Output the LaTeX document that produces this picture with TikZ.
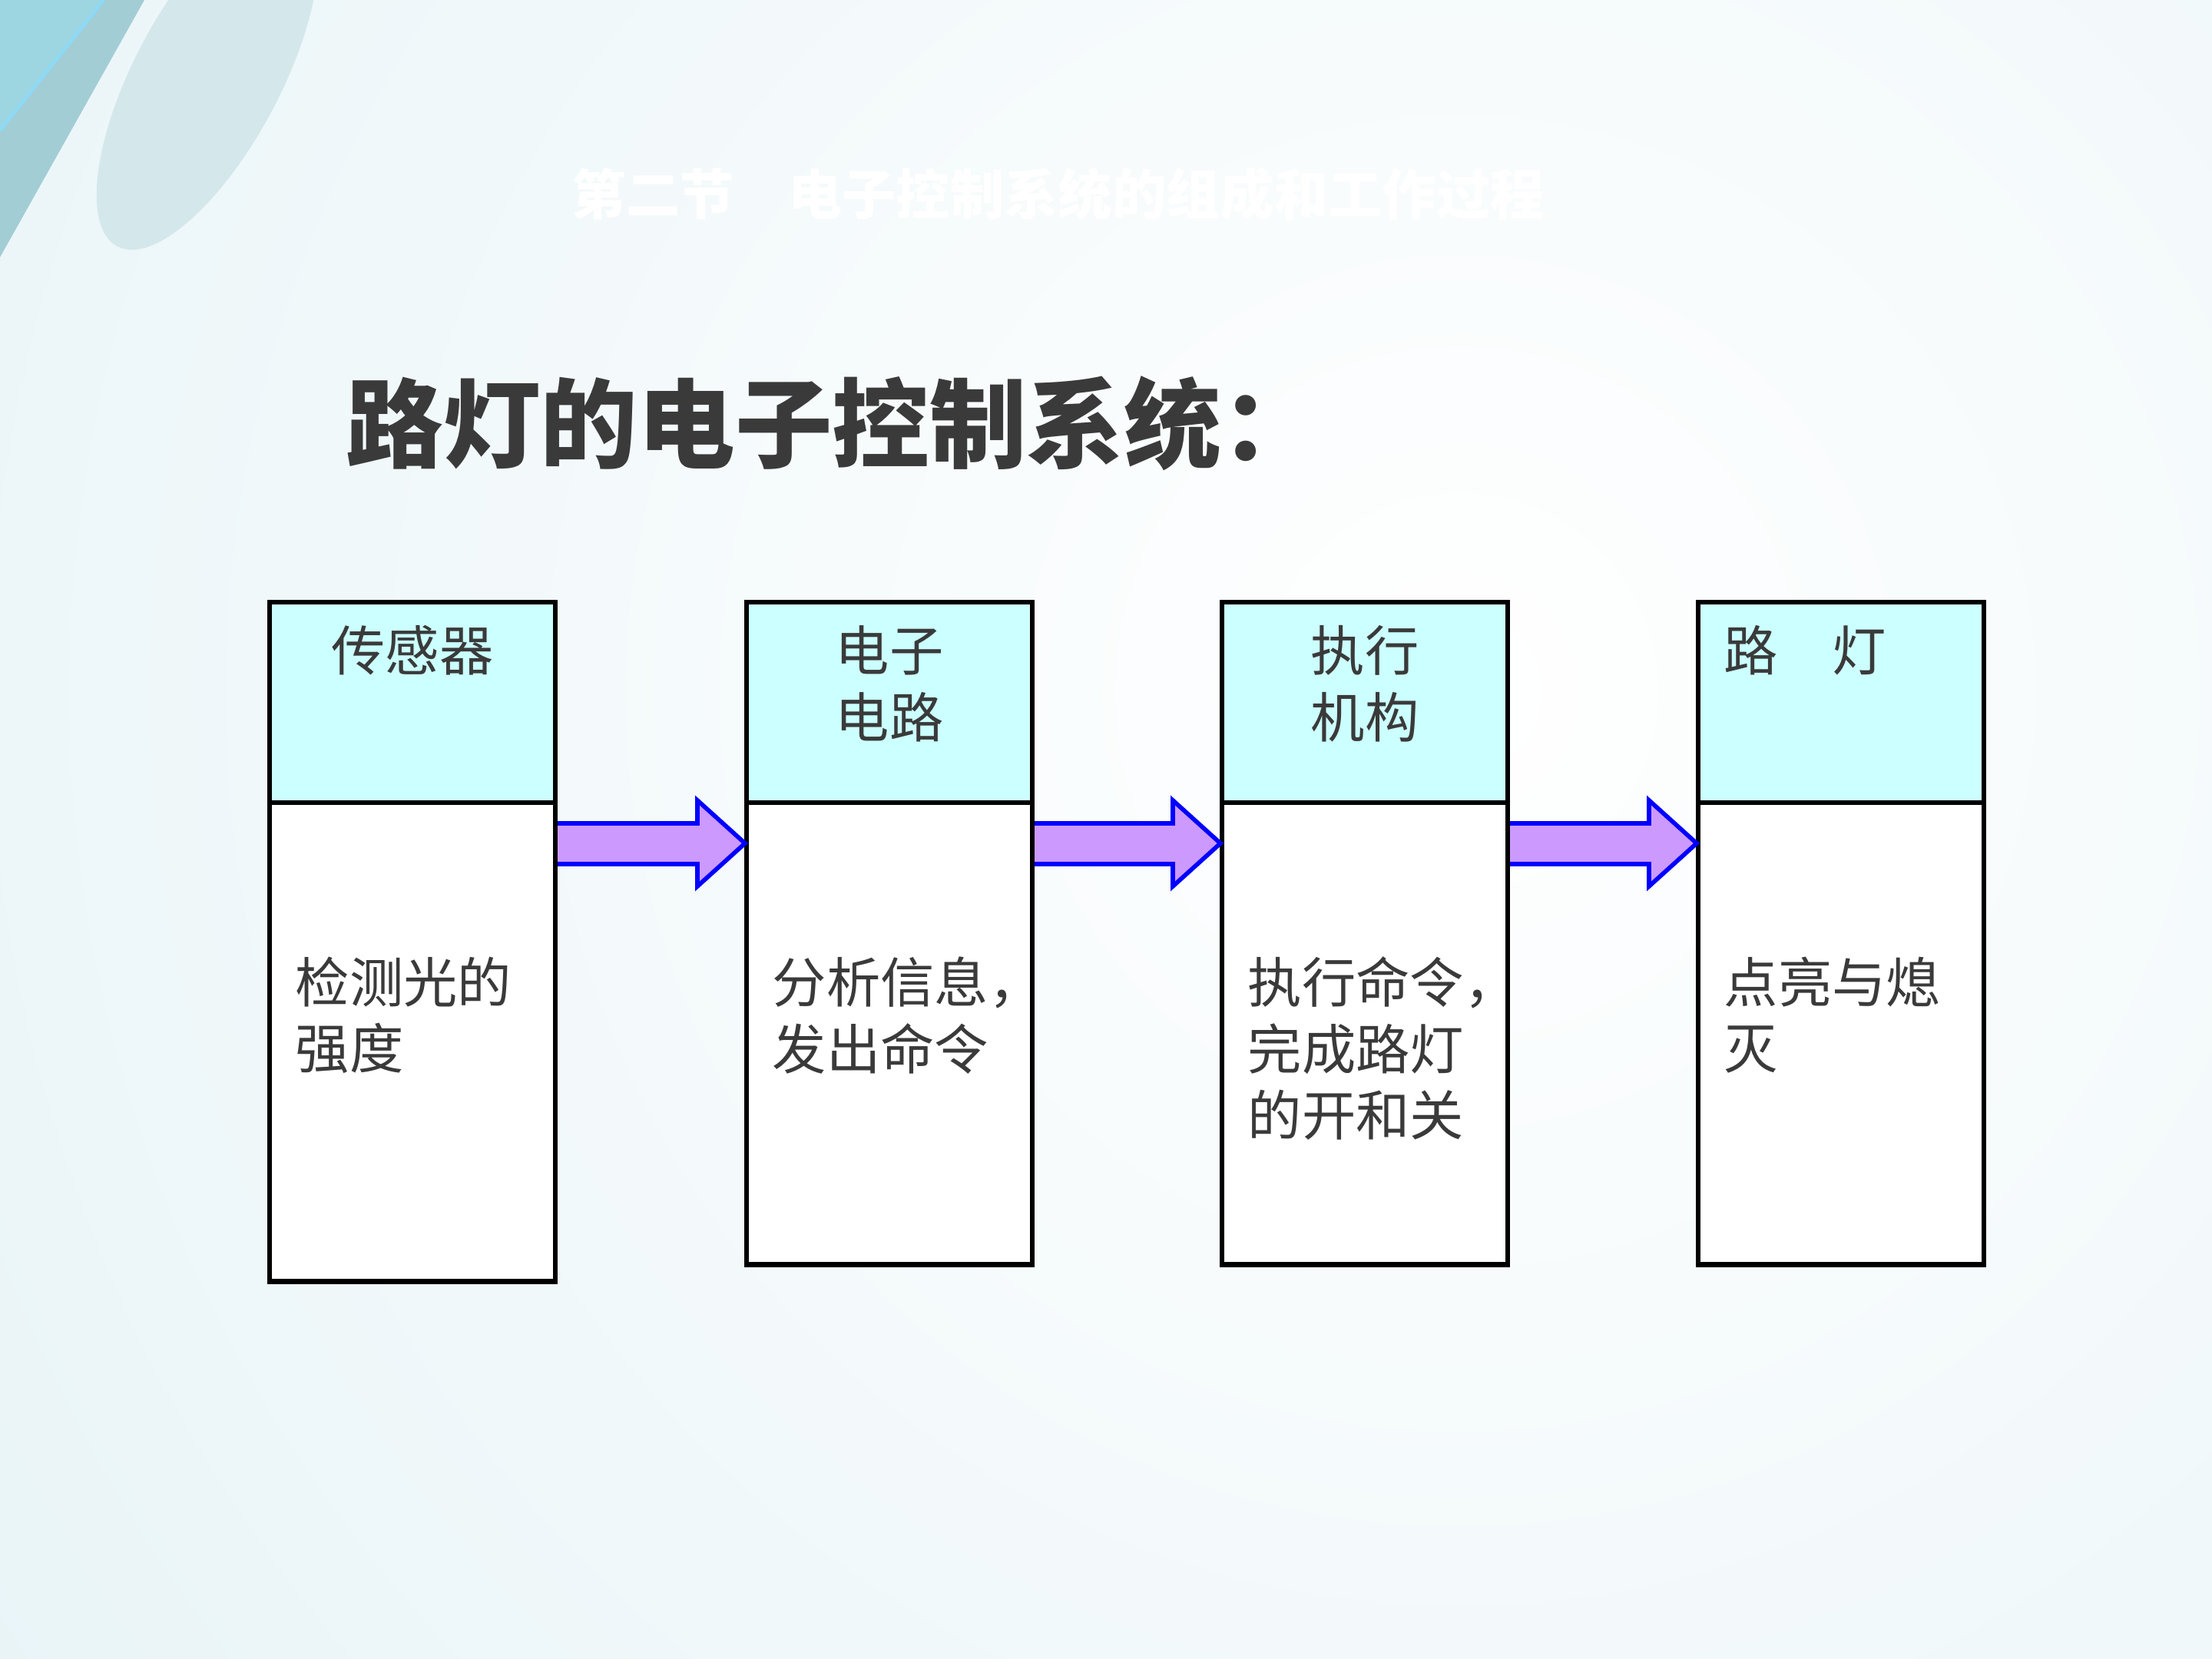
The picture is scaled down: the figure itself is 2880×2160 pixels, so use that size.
\documentclass[tikz,border=0pt]{standalone}
\usepackage{fontspec}
\newfontfamily\cjk{Noto Sans CJK SC}
\usetikzlibrary{calc}
\definecolor{headfill}{HTML}{CCFFFF}
\definecolor{arrowfill}{HTML}{CC99FF}
\definecolor{inkgray}{HTML}{3A3A3A}
\definecolor{bgtint}{HTML}{E2F1F5}
\definecolor{swooshteal}{HTML}{A3CDD5}
\definecolor{swooshlight}{HTML}{9DD6E0}
\definecolor{swooshpale}{HTML}{D4E8EC}
\tikzset{
  headbox/.style={draw=black, line width=1.8pt, fill=headfill, minimum width=3.72cm, minimum height=2.61cm, anchor=north west, inner sep=0pt, outer sep=0pt},
  bodybox/.style={draw=black, line width=1.8pt, fill=white, minimum width=3.72cm, anchor=north west, inner sep=0pt, outer sep=0pt},
  boxtext/.style={font=\cjk\fontsize{20}{24.6}\selectfont, text=inkgray, inner sep=0pt},
  flow/.style={draw=blue, fill=arrowfill, line width=1.6pt, line join=miter}
}
\newcommand{\flowarrow}[2]{\path[flow] ($(#1.north east)+(3,27)$) -- ($(#2.north west)+(-64,27)$) -- ($(#2.north west)+(-64,-3)$) -- ($(#2.north west)+(-2,53)$) -- ($(#2.north west)+(-64,109)$) -- ($(#2.north west)+(-64,80)$) -- ($(#1.north east)+(3,80)$);}

\begin{document}
\begin{tikzpicture}[x=0.01cm,y=-0.01cm]
\useasboundingbox (0,0) rectangle (2880,2160);
\begin{scope}
\clip (0,0) rectangle (2880,2160);
\shade[inner color=white, outer color=bgtint] (1900,900) circle (3000);
\fill[swooshpale, rotate around={62:(270,100)}] (270,100) ellipse (250 and 95);
\fill[swooshteal] (0,0) -- (188,0) -- (0,335) -- cycle;
\fill[swooshlight] (0,0) -- (135,0) -- (0,170) -- cycle;
\draw[cyan!45, line width=1.2pt] (135,0) -- (0,170);
\end{scope}
\node[font=\cjk\bfseries\fontsize{20}{24}\selectfont, text=white, anchor=west, inner sep=0pt] (section) at (744,253) {第二节　电子控制系统的组成和工作过程};
\node[font=\cjk\bfseries\fontsize{36}{40}\selectfont, text=inkgray, anchor=west, inner sep=0pt] (title) at (450,551) {路灯的电子控制系统：};

\node[headbox] (sensorHead) at (351,784) {};
\node[bodybox, minimum height=6.23cm] (sensorBody) at (351,1045) {};
\node[headbox] (circuitHead) at (972,784) {};
\node[bodybox, minimum height=6.01cm] (circuitBody) at (972,1045) {};
\node[headbox] (actuatorHead) at (1591,784) {};
\node[bodybox, minimum height=6.01cm] (actuatorBody) at (1591,1045) {};
\node[headbox] (lampHead) at (2211,784) {};
\node[bodybox, minimum height=6.01cm] (lampBody) at (2211,1045) {};

\node[boxtext, anchor=north, align=center] (sensorName) at ($(sensorHead.north)+(0,30)$) {传感器};
\node[boxtext, anchor=north, align=center] (circuitName) at ($(circuitHead.north)+(0,30)$) {电子\\电路};
\node[boxtext, anchor=north, align=center] (actuatorName) at ($(actuatorHead.north)+(0,30)$) {执行\\机构};
\node[boxtext, anchor=north west, align=left] (lampName) at ($(lampHead.north west)+(33,30)$) {路　灯};

\node[boxtext, anchor=north west, align=left] (sensorJob) at ($(sensorBody.north west)+(33,200)$) {检测光的\\强度};
\node[boxtext, anchor=north west, align=left] (circuitJob) at ($(circuitBody.north west)+(33,200)$) {分析信息，\\发出命令};
\node[boxtext, anchor=north west, align=left] (actuatorJob) at ($(actuatorBody.north west)+(33,200)$) {执行命令，\\完成路灯\\的开和关};
\node[boxtext, anchor=north west, align=left] (lampJob) at ($(lampBody.north west)+(33,200)$) {点亮与熄\\灭};

\flowarrow{sensorBody}{circuitBody}
\flowarrow{circuitBody}{actuatorBody}
\flowarrow{actuatorBody}{lampBody}
\end{tikzpicture}
\end{document}
